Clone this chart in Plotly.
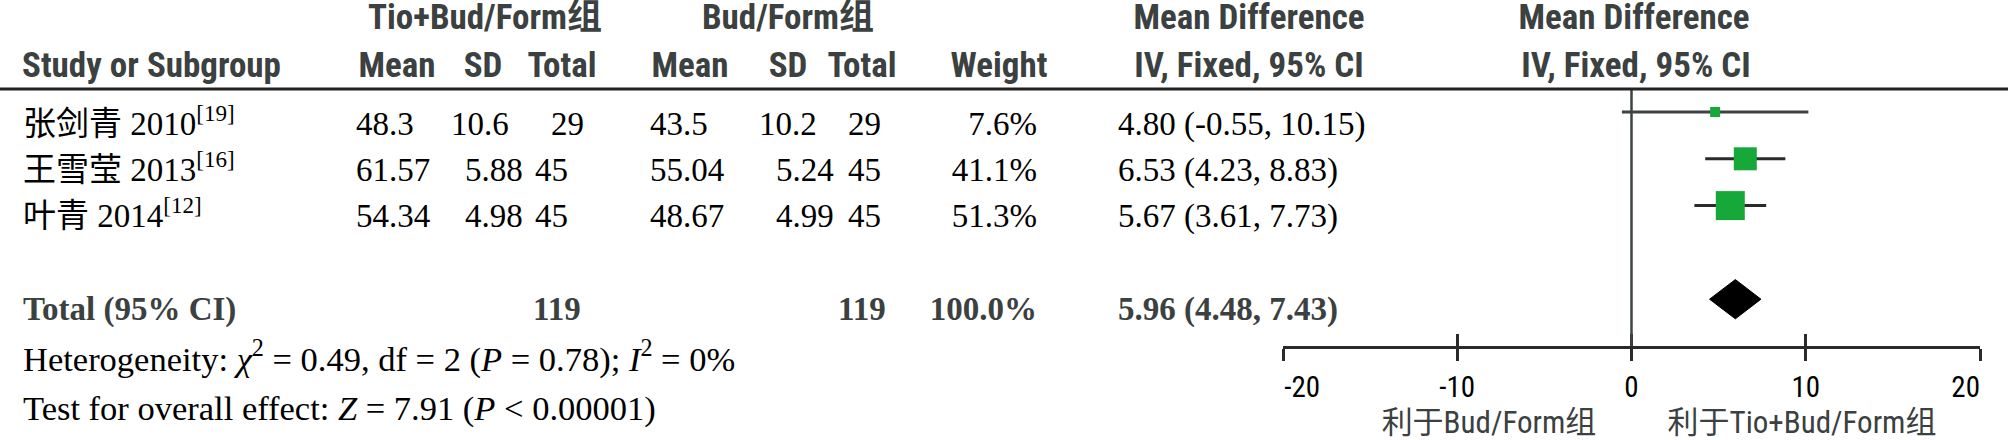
import plotly.graph_objects as go

# ---------------- data ----------------
studies = ["张剑青 2010", "王雪莹 2013", "叶青 2014"]
refs = ["[19]", "[16]", "[12]"]
tio_mean = [48.3, 61.57, 54.34]
tio_sd = [10.6, 5.88, 4.98]
tio_n = [29, 45, 45]
bud_mean = [43.5, 55.04, 48.67]
bud_sd = [10.2, 5.24, 4.99]
bud_n = [29, 45, 45]
weights = [7.6, 41.1, 51.3]
md = [4.80, 6.53, 5.67]
ci_low = [-0.55, 4.23, 3.61]
ci_high = [10.15, 8.83, 7.73]
total_tio = 119
total_bud = 119
total_weight = 100.0
total_md = 5.96
total_low = 4.48
total_high = 7.43
chi2 = 0.49
het_df = 2
het_p = 0.78
i2 = 0
z_value = 7.91
p_overall = "0.00001"
xticks = [-20, -10, 0, 10, 20]
group1 = "Tio+Bud/Form组"
group2 = "Bud/Form组"
favours_left = "利于Bud/Form组"
favours_right = "利于Tio+Bud/Form组"

# ---------------- styles ----------------
W, H = 2008, 440
HEAD_FONT = "Roboto Condensed, DejaVu Sans Condensed, Noto Sans CJK SC, sans-serif"
SERIF_FONT = "Liberation Serif, Times New Roman, Noto Sans CJK SC, serif"
HEAD_COLOR = "#3b4040"
GREEN = "#17a83a"
LINE = "#2a2a2a"
HEAD_SIZE = 35
BODY_SIZE = 33
NOTE_SIZE = 34.5
TICK_SIZE = 29

fig = go.Figure()

rows = list(range(len(studies)))
total_row = len(studies) + 1

# CI lines
for i in rows:
    fig.add_trace(go.Scatter(x=[ci_low[i], ci_high[i]], y=[i, i], mode="lines",
                             line=dict(color=LINE if i else "#3d4343", width=3),
                             hoverinfo="skip", showlegend=False))
# squares
fig.add_trace(go.Scatter(x=md, y=rows, mode="markers",
                         marker=dict(symbol="square", size=[10, 23, 29], color=GREEN,
                                     opacity=1, line=dict(width=0)),
                         hoverinfo="skip", showlegend=False))
# diamond
h = 0.42
fig.add_trace(go.Scatter(x=[total_low, total_md, total_high, total_md, total_low],
                         y=[total_row, total_row - h, total_row, total_row + h, total_row],
                         mode="lines", fill="toself", fillcolor="black",
                         line=dict(color="black", width=1), hoverinfo="skip", showlegend=False))
# dummy traces so the overlay axes are drawn
for ax in ["x2", "x4"]:
    fig.add_trace(go.Scatter(x=[None], y=[None], xaxis=ax, yaxis="y", showlegend=False, hoverinfo="skip"))

# vertical zero line
fig.add_shape(type="line", x0=0, x1=0, xref="x", y0=0, y1=1, yref="y domain",
              line=dict(color="#3d4343", width=2.5))
# header separator
fig.add_shape(type="line", x0=0, x1=1, xref="paper", y0=1 - 89 / H, y1=1 - 89 / H, yref="paper",
              line=dict(color="#222", width=3))

# ---------------- text (on a full-page pixel overlay axis) ----------------
items = []

def text(x, y, s, pos="middle right", font=SERIF_FONT, size=BODY_SIZE, color="black"):
    items.append((x, y, s, pos, font, size, color))

L, R, C = "middle right", "middle left", "middle center"
hb = lambda s: "<b>" + s + "</b>"

# headers
for x, s in [(485, group1), (788, group2), (1249, "Mean Difference"), (1634, "Mean Difference")]:
    text(x, 20, hb(s), C, HEAD_FONT, HEAD_SIZE, HEAD_COLOR)
text(22, 68, hb("Study or Subgroup"), L, HEAD_FONT, HEAD_SIZE, HEAD_COLOR)
for x, s in [(397, "Mean"), (483, "SD"), (562, "Total"), (690, "Mean"), (788, "SD"),
             (862, "Total"), (999, "Weight"), (1249, "IV, Fixed, 95% CI"), (1636, "IV, Fixed, 95% CI")]:
    text(x, 68, hb(s), C, HEAD_FONT, HEAD_SIZE, HEAD_COLOR)

# row layout (column x positions in px, per row where the source aligns by decimal point)
row_y = [127, 173, 219]
sd1_x = [451, 465, 465]
n1_x = [551, 535, 535]
sd2_x = [759, 776, 776]
for i in rows:
    y = row_y[i]
    text(23, y, f"{studies[i]}<sup>{refs[i]}</sup>", L)
    text(356, y, f"{tio_mean[i]}", L)
    text(sd1_x[i], y, f"{tio_sd[i]}", L)
    text(n1_x[i], y, f"{tio_n[i]}", L)
    text(650, y, f"{bud_mean[i]}", L)
    text(sd2_x[i], y, f"{bud_sd[i]}", L)
    text(848, y, f"{bud_n[i]}", L)
    text(1037, y, f"{weights[i]:.1f}%", R)
    text(1118, y, f"{md[i]:.2f} ({ci_low[i]:.2f}, {ci_high[i]:.2f})", L)

ty = 312
text(23, ty, hb("Total (95% CI)"), L, color=HEAD_COLOR)
text(533, ty, hb(str(total_tio)), L, color=HEAD_COLOR)
text(838, ty, hb(str(total_bud)), L, color=HEAD_COLOR)
text(1037, ty, hb(f"{total_weight:.1f}%"), R, color=HEAD_COLOR)
text(1118, ty, hb(f"{total_md:.2f} ({total_low:.2f}, {total_high:.2f})"), L, color=HEAD_COLOR)

text(23, 362,
     f"Heterogeneity: <i>χ</i><sup>2</sup> = {chi2}, df = {het_df} (<i>P</i> = {het_p}); <i>I</i><sup>2</sup> = {i2}%",
     L, size=NOTE_SIZE)
text(23, 411, f"Test for overall effect: <i>Z</i> = {z_value} (<i>P</i> &lt; {p_overall})", L, size=NOTE_SIZE)

text(1489, 425, favours_left, C, HEAD_FONT, 31, HEAD_COLOR)
text(1802, 425, favours_right, C, HEAD_FONT, 31, HEAD_COLOR)

groups = {}
for it in items:
    groups.setdefault((it[3], it[4], it[5], it[6]), []).append(it)
for (pos, font, size, color), its in groups.items():
    fig.add_trace(go.Scatter(
        x=[t[0] for t in its], y=[t[1] for t in its], text=[t[2] for t in its],
        mode="text", textposition=pos, textfont=dict(family=font, size=size, color=color),
        xaxis="x3", yaxis="y3", cliponaxis=False, hoverinfo="skip", showlegend=False))

# tick labels: inner ones centred, end ones kept inside the axis span
mid_text = [str(t) if t not in (xticks[0], xticks[-1]) else "" for t in xticks]
first_text = [str(t) if t == xticks[0] else "" for t in xticks]
last_text = [str(t) if t == xticks[-1] else "" for t in xticks]
dom = [1283 / W, 1980 / W]
tickfont = dict(family=HEAD_FONT, size=TICK_SIZE, color="black")

fig.update_layout(
    width=W, height=H, margin=dict(l=0, r=0, t=0, b=0, autoexpand=False),
    paper_bgcolor="white", plot_bgcolor="rgba(0,0,0,0)",
    xaxis=dict(domain=dom, range=[-20, 20], anchor="y",
               showline=True, linewidth=2.5, linecolor=LINE,
               ticks="outside", ticklen=12, tickwidth=2.5, tickcolor=LINE,
               tickvals=xticks, ticktext=mid_text, tickfont=tickfont,
               ticklabelstandoff=1,
               showgrid=False, zeroline=False, fixedrange=True),
    xaxis2=dict(range=[-20, 20], anchor="y", overlaying="x", side="bottom",
                ticks="inside", ticklen=12, tickwidth=2.5, tickcolor=LINE,
                tickvals=xticks, ticktext=first_text, tickfont=tickfont,
                ticklabelposition="outside right", ticklabelstandoff=21,
                showline=False, showgrid=False, zeroline=False, fixedrange=True),
    xaxis4=dict(range=[-20, 20], anchor="y", overlaying="x", side="bottom",
                ticks="", tickvals=xticks, ticktext=last_text, tickfont=tickfont,
                ticklabelposition="outside left", ticklabelstandoff=21,
                showline=False, showgrid=False, zeroline=False, fixedrange=True),
    yaxis=dict(domain=[1 - 346 / H, 1 - 88 / H], range=[5.0, -0.513], visible=False,
               showgrid=False, zeroline=False, fixedrange=True),
    xaxis3=dict(domain=[0, 1], range=[0, W], anchor="y3", visible=False, fixedrange=True),
    yaxis3=dict(domain=[0, 1], range=[H, 0], anchor="x3", visible=False, fixedrange=True),
    showlegend=False,
)

fig.write_html("out.html", config={"displayModeBar": False},
               post_script="document.body.style.margin='0px';")
